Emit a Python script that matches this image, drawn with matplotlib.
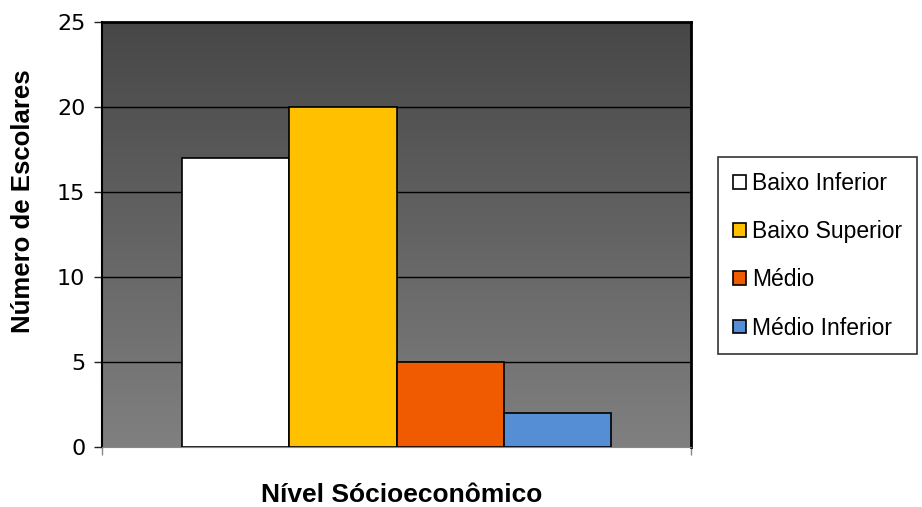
import matplotlib.pyplot as plt
import numpy as np
from matplotlib.colors import LinearSegmentedColormap

categorias = ['Baixo Inferior', 'Baixo Superior', 'Médio', 'Médio Inferior']
escolares = [17, 20, 5, 2]
cores = ['#ffffff', '#ffc000', '#f05a00', '#558ed5']
yticks = [0, 5, 10, 15, 20, 25]

fig = plt.figure(figsize=(9.22, 5.07), dpi=100)
ax = fig.add_axes([102 / 922, 60 / 507, 589 / 922, 425 / 507])

# fundo em degradê (escuro em cima, claro embaixo)
grad = LinearSegmentedColormap.from_list('fundo', ['#808080', '#474747'])
ax.imshow(np.linspace(0, 1, 256).reshape(-1, 1), cmap=grad, aspect='auto',
          extent=[0, 1, 0, 25], origin='lower', zorder=0)

largura = 0.182
x0 = 0.5 - 2 * largura
for i, (nome, valor, cor) in enumerate(zip(categorias, escolares, cores)):
    ax.bar(x0 + i * largura, valor, width=largura, align='edge', color=cor,
           edgecolor='black', linewidth=1.2, label=nome, zorder=3)

for y in yticks[1:-1]:
    ax.axhline(y, color='black', linewidth=1, zorder=1)

ax.set_xlim(0, 1)
ax.set_ylim(0, 25)
ax.set_yticks(yticks)
ax.set_yticklabels([str(v) for v in yticks], fontsize=16, family='DejaVu Sans')
ax.set_xticks([0, 1])
ax.set_xticklabels(['', ''])
ax.tick_params(axis='y', length=6, width=1, color='#222222', pad=6)
ax.tick_params(axis='x', length=6, width=1, color='#888888', direction='out')

for lado in ['top', 'right', 'left']:
    ax.spines[lado].set_linewidth(2 if lado != 'left' else 1.5)
    ax.spines[lado].set_color('black')
ax.spines['bottom'].set_color('#888888')

# rótulos dos eixos posicionados em coordenadas da figura
fig.text(23 / 922, 1 - 201 / 507, 'Número de Escolares', rotation=90,
         ha='center', va='center', fontsize=18.5, fontweight='bold',
         family='Liberation Sans')
fig.text(402 / 922, 1 - 495 / 507, 'Nível Sócioeconômico',
         ha='center', va='center', fontsize=19, fontweight='bold',
         family='Liberation Sans')

leg = fig.legend(loc='upper left', bbox_to_anchor=(718 / 922, 1 - 157 / 507),
                 prop={'family': 'Liberation Sans', 'size': 16.5},
                 frameon=True, fancybox=False, edgecolor='black',
                 handlelength=0.55, handleheight=0.55, handletextpad=0.3,
                 labelspacing=1.1, borderpad=0.65, borderaxespad=0)
leg.get_frame().set_linewidth(1.2)

fig.savefig('out.png', dpi=100)
